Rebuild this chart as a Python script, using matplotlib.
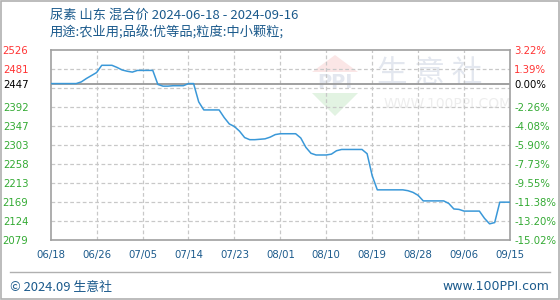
import matplotlib
matplotlib.use("Agg")
import matplotlib.pyplot as plt
from matplotlib.patches import Polygon, Rectangle
from matplotlib.lines import Line2D
import numpy as np

# ---------------- data ----------------
title = "尿素 山东 混合价 2024-06-18 - 2024-09-16"
subtitle = "用途:农业用;品级:优等品;粒度:中小颗粒;"
prices = [2447, 2447, 2447, 2447, 2447, 2447, 2451, 2459, 2466, 2473,
          2490, 2490, 2490, 2485, 2479, 2476, 2474, 2478, 2478, 2478,
          2478, 2445, 2441, 2441, 2442, 2442, 2442, 2447, 2447, 2404,
          2385, 2385, 2385, 2385, 2367, 2352, 2346, 2335, 2320, 2315,
          2315, 2316, 2317, 2321, 2327, 2329, 2329, 2329, 2329, 2319,
          2297, 2283, 2279, 2279, 2279, 2281, 2289, 2292, 2292, 2292,
          2292, 2292, 2282, 2230, 2197, 2197, 2197, 2197, 2197, 2197,
          2195, 2191, 2184, 2171, 2171, 2171, 2171, 2171, 2165, 2152,
          2151, 2147, 2147, 2147, 2147, 2130, 2117, 2120, 2168, 2168,
          2168]
base_price = 2447
y_min, y_max = 2079, 2526
left_labels = ["2526", "2481", "2447", "2392", "2347", "2303", "2258",
               "2213", "2169", "2124", "2079"]
right_labels = ["3.22%", "1.39%", "0.00%", "-2.26%", "-4.08%", "-5.90%",
                "-7.73%", "-9.55%", "-11.38%", "-13.20%", "-15.02%"]
x_labels = ["06/18", "06/26", "07/05", "07/14", "07/23", "08/01", "08/10",
            "08/19", "08/28", "09/06", "09/15"]
footer_left = "© 2024.09 生意社"
footer_right = "www.100PPI.com"

# ---------------- style ----------------
RED = "#ff3333"
GREEN = "#33aa33"
BLACK = "#000000"
BLUE_TXT = "#1b5a8c"
LINE = "#3a98d8"
GRID = "#c8c8c8"
FRAME = "#a0a0a0"
CJK = ["Noto Sans CJK SC", "DejaVu Sans"]

W, H = 560, 300
fig = plt.figure(figsize=(W / 100, H / 100), dpi=100)
fig.patch.set_facecolor("white")

# background / decoration axes in pixel coordinates
bg = fig.add_axes([0, 0, 1, 1], zorder=0)
bg.set_xlim(0, W)
bg.set_ylim(H, 0)
bg.axis("off")

# outer frame
bg.add_patch(Rectangle((0.5, 0.5), W - 1.5, H - 1.5, fill=False, ec="#b0b0b0", lw=1.2))
# footer separator
bg.add_line(Line2D([10, 550], [272, 272], color="#b0b0b0", lw=1))

# watermark logo
bg.add_patch(Polygon([[335, 55], [312, 72], [358, 72]], closed=True, fc="#fbe6e6", ec="none"))
bg.add_patch(Polygon([[312, 93], [358, 93], [335, 116]], closed=True, fc="#e2f3e2", ec="none"))
bg.text(335, 82, "PPI", ha="center", va="center", fontsize=14, color="#e3e7ef",
        fontweight="bold", family="DejaVu Sans")
bg.text(430, 74, "生 意 社", ha="center", va="center", fontsize=22, color="#e3e7ef",
        family=CJK)
bg.text(448, 104, "WWW.100PPI.COM", ha="center", va="center", fontsize=10,
        color="#ededed", family="DejaVu Sans")

# main axes
x0, x1, ytop, ybot = 50.7, 510, 50, 240
ax = fig.add_axes([x0 / W, 1 - ybot / H, (x1 - x0) / W, (ybot - ytop) / H], zorder=2)
ax.set_facecolor("none")

n = len(prices)
xs = np.arange(n)
ax.set_xlim(0, n - 1)
ax.set_ylim(y_min, y_max)

# grid
grid_vals = np.linspace(y_min, y_max, len(left_labels))
for gv in grid_vals[1:-1]:
    ax.axhline(gv, color=GRID, lw=0.9, ls=(0, (3, 2)), zorder=1)
xticks = np.linspace(0, n - 1, len(x_labels))
for xv in xticks[1:-1]:
    ax.axvline(xv, color=GRID, lw=0.9, ls=(0, (3, 2)), zorder=1)
ax.axhline(base_price, color="#999999", lw=1.3, zorder=2)

ax.plot(xs, prices, color=LINE, lw=1.1, zorder=3)

for s in ax.spines.values():
    s.set_color(FRAME)
    s.set_linewidth(1.2)

# y tick labels
tick_pos = [float(v) for v in left_labels]
colors = []
for v in tick_pos:
    if v > base_price:
        colors.append(RED)
    elif v == base_price:
        colors.append(BLACK)
    else:
        colors.append(GREEN)

ax.set_yticks(tick_pos)
ax.set_yticklabels(left_labels, fontsize=7.3, family="DejaVu Sans")
ax.tick_params(axis="y", length=0, pad=16)
for lab, c in zip(ax.get_yticklabels(), colors):
    lab.set_color(c)

ax2 = ax.twinx()
ax2.set_ylim(y_min, y_max)
ax2.set_yticks(tick_pos)
ax2.set_yticklabels(right_labels, fontsize=7.3, family="DejaVu Sans")
ax2.tick_params(axis="y", length=0, pad=3)
for lab, c in zip(ax2.get_yticklabels(), colors):
    lab.set_color(c)
for s in ax2.spines.values():
    s.set_visible(False)

ax.set_xticks(xticks)
ax.set_xticklabels(x_labels, fontsize=7.3, color=BLUE_TXT, family="DejaVu Sans")
ax.tick_params(axis="x", length=0, pad=7)

# titles
fig.text(50 / W, 1 - 15 / H, title, fontsize=9.5, color=BLUE_TXT, family=CJK,
         ha="left", va="center")
fig.text(50 / W, 1 - 33 / H, subtitle, fontsize=9.5, color=BLUE_TXT, family=CJK,
         ha="left", va="center")

# footer
fig.text(10 / W, 1 - 287 / H, footer_left, fontsize=9.3, color=BLUE_TXT, family=CJK,
         ha="left", va="center")
fig.text(549 / W, 1 - 287 / H, footer_right, fontsize=9, color=BLUE_TXT,
         family="DejaVu Sans", ha="right", va="center")

fig.savefig("out.png", dpi=100)
